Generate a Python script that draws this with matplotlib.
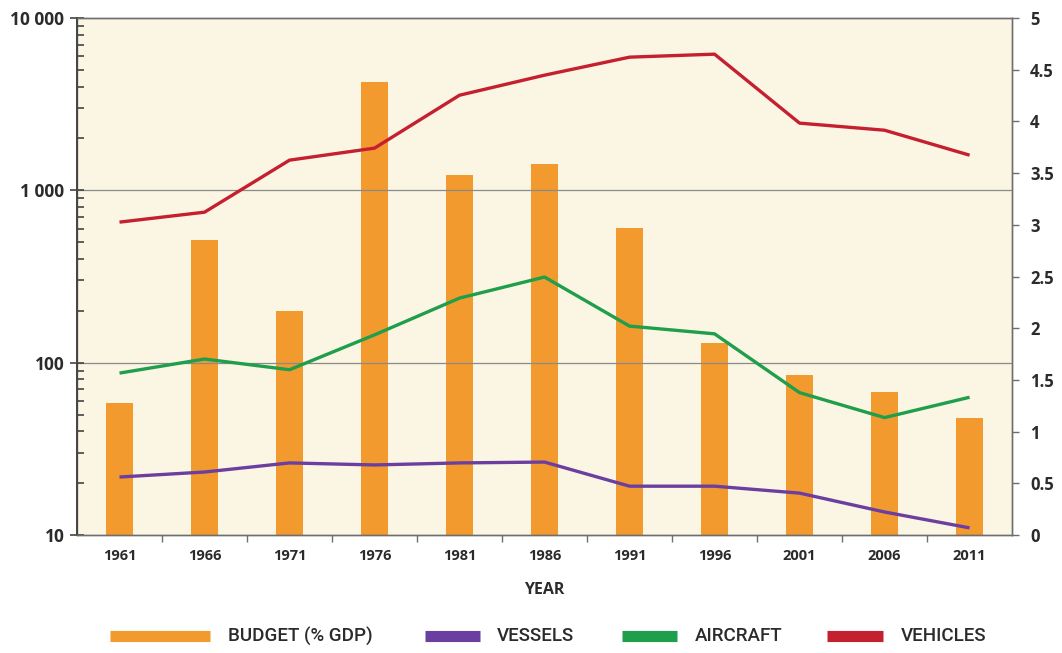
import matplotlib
matplotlib.use("Agg")
import numpy as np
import matplotlib.pyplot as plt
from matplotlib.lines import Line2D
from matplotlib.ticker import LogLocator, FixedLocator, NullFormatter

# datos
years    = ["1961", "1966", "1971", "1976", "1981", "1986", "1991", "1996", "2001", "2006", "2011"]
budget   = [1.28, 2.85, 2.17, 4.38, 3.48, 3.59, 2.97, 1.86, 1.55, 1.38, 1.13]   # % PIB (eje derecho)
vessels  = [21.7, 23.2, 26.2, 25.5, 26.2, 26.5, 19.2, 19.2, 17.5, 13.6, 11.0]
aircraft = [87, 105, 91, 145, 237, 314, 163, 147, 67, 48, 63]
vehicles = [654, 747, 1497, 1758, 3565, 4660, 5928, 6170, 2455, 2233, 1600]

c_budget   = "#F39A2E"
c_vessels  = "#6B3FA0"
c_aircraft = "#1F9E4B"
c_vehicles = "#C5202F"
c_text     = "#2b2b2b"
c_axis     = "#6e6e6e"

plt.rcParams["font.family"] = ["Open Sans", "DejaVu Sans"]

fig = plt.figure(figsize=(10.62, 6.53), dpi=100)
ax = fig.add_axes([0.0725, 0.1807, 0.8805, 0.7917])
ax2 = ax.twinx()

x = np.arange(len(years))

# barras en el eje derecho, detrás de las líneas
ax2.set_zorder(0)
ax.set_zorder(1)
ax.patch.set_visible(False)
ax2.patch.set_visible(True)
ax2.patch.set_facecolor("#FBF6E4")

ax2.bar(x, budget, width=0.31, color=c_budget, zorder=2)
ax2.set_ylim(0, 5)
ax2.yaxis.set_major_locator(FixedLocator(np.arange(0, 5.01, 0.5)))
ax2.set_yticklabels(["0", "0.5", "1", "1.5", "2", "2.5", "3", "3.5", "4", "4.5", "5"])

# líneas en escala log (eje izquierdo)
lw = 2.4
ax.plot(x, vessels, color=c_vessels, lw=lw, solid_capstyle="butt", zorder=3)
ax.plot(x, aircraft, color=c_aircraft, lw=lw, solid_capstyle="butt", zorder=3)
ax.plot(x, vehicles, color=c_vehicles, lw=lw, solid_capstyle="butt", zorder=3)

ax.set_yscale("log")
ax.set_ylim(10, 10000)
ax.yaxis.set_major_locator(FixedLocator([10, 100, 1000, 10000]))
ax.set_yticklabels(["10", "100", "1 000", "10 000"])
ax.yaxis.set_minor_locator(LogLocator(base=10, subs=np.arange(2, 10)))
ax.yaxis.set_minor_formatter(NullFormatter())
for v in [100, 1000]:
    ax.axhline(v, color="#8a8a8a", lw=0.9, zorder=1)

ax.set_xlim(-0.5, len(years) - 0.5)
ax.set_xticks(x)
ax.set_xticklabels(years)
ax.set_xticks(np.arange(0.5, len(years) - 0.5, 1), minor=True)
ax.tick_params(axis="x", which="major", length=0, pad=10, labelsize=10.5, labelcolor=c_text)
ax.tick_params(axis="x", which="minor", length=5, width=1, color=c_axis, direction="out")
ax.tick_params(axis="y", which="major", direction="inout", length=10, width=1.2,
               color="#444444", labelsize=12.5, labelcolor=c_text, pad=4)
ax.tick_params(axis="y", which="minor", direction="in", length=5, width=1.2, color="#444444")
ax2.tick_params(axis="y", direction="out", length=5, width=1, color=c_axis,
                labelsize=12, labelcolor=c_text, pad=8)

for lab in ax.get_yticklabels() + ax2.get_yticklabels() + ax.get_xticklabels():
    lab.set_fontweight("bold")

for a in (ax, ax2):
    for s in a.spines.values():
        s.set_color(c_axis)
        s.set_linewidth(1.0)
ax.spines["left"].set_color("#444444")
ax.spines["left"].set_linewidth(1.4)

ax.set_xlabel("YEAR", fontsize=11.5, fontweight="bold", color=c_text, labelpad=14)

# leyenda manual
ley = [
    (110, 210, c_budget, "BUDGET (% GDP)", 228),
    (425, 480, c_vessels, "VESSELS", 497),
    (622, 677, c_aircraft, "AIRCRAFT", 695),
    (827, 883, c_vehicles, "VEHICLES", 901),
]
W, H = 1062, 653
yl = 1 - 636 / H
for x0, x1, col, txt, xt in ley:
    fig.add_artist(Line2D([x0 / W, x1 / W], [yl, yl], color=col, lw=8, solid_capstyle="butt"))
    fig.text(xt / W, yl, txt, fontsize=13.5, color=c_text, va="center", ha="left",
             family=["Liberation Sans Narrow", "Roboto", "DejaVu Sans"], fontweight="medium")

fig.savefig("out.png", dpi=100, facecolor="white")
